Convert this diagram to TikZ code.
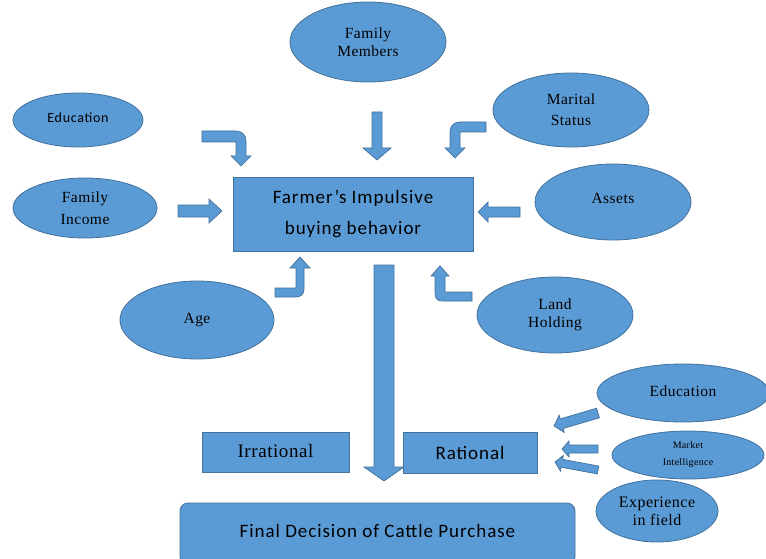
\documentclass[tikz,border=0pt]{standalone}
\usepackage{fontspec}
\setmainfont{Liberation Serif}[LetterSpace=3]
\newfontfamily\calib{Carlito}[LetterSpace=5]
\usetikzlibrary{shapes.geometric}
\definecolor{bfill}{HTML}{5B9BD5}
\definecolor{bline}{HTML}{41719C}
\tikzset{
  oval/.style={ellipse, draw=bline, fill=bfill, line width=0.8pt, inner sep=0pt, align=center, font=\fontsize{15.5}{18}\selectfont},
  box/.style={rectangle, draw=bline, fill=bfill, line width=0.8pt, inner sep=0pt, align=center},
  barrowstyle/.style={draw=bline, fill=bfill, line width=0.7pt, line join=miter},
}
% straight block arrow: x1 y1 x2 y2 shafthalf headhalf headlen
\newcommand\sarrow[7]{%
  \pgfmathsetmacro\myang{atan2(-(#4-#2),#3-#1)}%
  \pgfmathsetmacro\mylen{veclen(#3-#1,#4-#2)}%
  \begin{scope}[shift={(#1,#2)}, rotate=\myang]
    \draw[barrowstyle] (0,-#5) -- (\mylen-#7,-#5) -- (\mylen-#7,-#6) -- (\mylen,0)
      -- (\mylen-#7,#6) -- (\mylen-#7,#5) -- (0,#5) -- cycle;
  \end{scope}}
\begin{document}
\begin{tikzpicture}[x=1pt,y=-1pt]
\useasboundingbox (0,0) rectangle (766,559);
\fill[white] (0,0) rectangle (766,559);

% ellipses
\node[oval, minimum width=156, minimum height=80] (fm) at (368,42) {Family\\Members};
\node[oval, minimum width=130, minimum height=54, font=\calib\fontsize{14}{15}\selectfont] (edu) at (78,120) {\raisebox{5pt}{Education}};
\node[oval, minimum width=144, minimum height=60, font=\fontsize{15.5}{22}\selectfont] (fi) at (85,208) {Family\\Income};
\node[oval, minimum width=154, minimum height=78] (age) at (197,320) {\raisebox{3pt}{Age}};
\node[oval, minimum width=156, minimum height=74, font=\fontsize{15.5}{19}\selectfont] (ms) at (571,110) {\raisebox{2pt}{Marital}\\Status};
\node[oval, minimum width=156, minimum height=76] (as) at (613,202) {\raisebox{7pt}{Assets}};
\node[oval, minimum width=156, minimum height=76] (lh) at (555,315) {Land\\Holding};
\node[oval, minimum width=172, minimum height=58] (edu2) at (683,393) {\raisebox{4pt}{Education}};
\node[oval, minimum width=152, minimum height=48, font=\fontsize{10}{17}\selectfont] (mi) at (688,455) {Market\\Intelligence};
\node[oval, minimum width=122, minimum height=62, font=\fontsize{16}{18}\selectfont] (ex) at (657,511) {Experience\\in field};

% main box
\node[box, minimum width=240, minimum height=74, font=\calib\fontsize{19}{29}\selectfont] (main) at (353,214) {\raisebox{2pt}{Farmer’s Impulsive}\\buying behavior};

% straight arrows
\sarrow{377}{112}{377}{160}{5}{14}{12}
\sarrow{178}{211}{222}{211}{6}{12}{13}
\sarrow{520}{212}{478}{212}{5}{10}{10}
\sarrow{384}{265}{384}{481}{10}{20}{14}
\sarrow{598}{413}{554}{426}{5}{9}{8}
\sarrow{598}{449}{562}{449}{4}{8}{7}
\sarrow{598}{470}{555}{462}{4}{8}{7}

% bent arrows
\draw[barrowstyle] (202,131) -- (236,131) .. controls (242,131) and (246,135) .. (246,141)
  -- (246,156) -- (251,156) -- (241,166) -- (231,156) -- (236,156) -- (236,142) -- (202,142) -- cycle;
\draw[barrowstyle] (486,122) -- (460,122) .. controls (454,122) and (450,126) .. (450,132)
  -- (450,148) -- (445,148) -- (455,158) -- (465,148) -- (460,148) -- (460,132) -- (486,132) -- cycle;
\draw[barrowstyle] (275,288) -- (296,288) -- (296,268) -- (290,268) -- (300,257) -- (310,268)
  -- (304,268) -- (304,289) .. controls (304,294) and (301,297) .. (296,297) -- (275,297) -- cycle;
\draw[barrowstyle] (472,292) -- (445,292) -- (445,276) -- (449,276) -- (440,266) -- (431,276)
  -- (435,276) -- (435,293) .. controls (435,298) and (437,301) .. (442,301) -- (472,301) -- cycle;

% lower boxes
\node[box, minimum width=147, minimum height=40, font=\fontsize{19}{20}\selectfont] (irr) at (275.5,452) {\raisebox{2pt}{Irrational}};
\node[box, minimum width=134, minimum height=41, font=\calib\fontsize{19}{20}\selectfont] (rat) at (470,452.5) {Rational};
\node[box, rounded corners=8pt, minimum width=395, minimum height=62, font=\calib\fontsize{19}{20}\selectfont] (fin) at (377.5,534) {\raisebox{7pt}{Final Decision of Cattle Purchase}};
\end{tikzpicture}
\end{document}
